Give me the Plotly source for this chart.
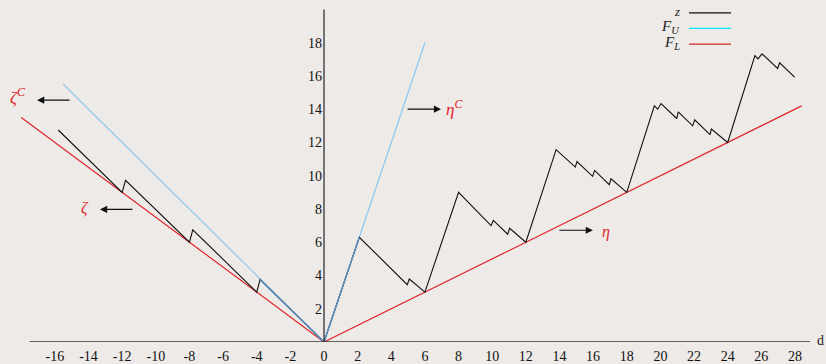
import plotly.graph_objects as go
import numpy as np

# ---- data ----
z_x = [-15.8, -12.0, -11.8, -8.0, -7.8, -4.0, -3.8, 0.0,
       2.1, 4.95, 5.07, 6.0, 8.0, 9.93, 10.07, 10.92, 11.04, 12.0,
       13.8, 14.94, 15.04, 15.97, 16.09, 16.96, 17.06, 18.0,
       19.64, 19.84, 20.04, 20.97, 21.06, 21.92, 22.04, 22.95, 23.03, 24.0,
       25.62, 25.8, 26.04, 26.97, 27.09, 27.98]
z_y = [12.75, 9.0, 9.72, 6.0, 6.75, 3.0, 3.75, 0.0,
       6.3, 3.45, 3.79, 3.0, 9.0, 7.0, 7.31, 6.48, 6.84, 6.0,
       11.57, 10.52, 10.85, 9.96, 10.32, 9.46, 9.82, 9.0,
       14.2, 14.0, 14.34, 13.44, 13.84, 13.0, 13.36, 12.47, 12.81, 12.0,
       17.22, 17.03, 17.33, 16.45, 16.79, 15.93]
fu_x = [-15.5, 0.0, 6.0]
fu_y = [15.5, 0.0, 18.0]
fl_x = [-18.0, 0.0, 28.4]
fl_y = [13.5, 0.0, 14.2]
x_ticks = list(range(-16, 29, 2))
y_ticks = list(range(2, 19, 2))

BG = "#EDEAE7"
RED = "#E0242B"
SKY = "#8CC8F0"
SERIF = "Liberation Serif"
INK = "#111111"

# z points lying on F_U (overlap drawn in a blended blue)
fu_at = np.interp(z_x, fu_x, fu_y)
on = [abs(a - b) < 0.2 for a, b in zip(z_y, fu_at)]
ov_x = [x for x, o in zip(z_x, on) if o]
ov_y = [y for y, o in zip(z_y, on) if o]

fig = go.Figure()
fig.add_trace(go.Scatter(x=fl_x, y=fl_y, mode="lines", line=dict(color=RED, width=1.2), hoverinfo="skip"))
fig.add_trace(go.Scatter(x=fu_x, y=fu_y, mode="lines", line=dict(color=SKY, width=1.2), hoverinfo="skip"))
fig.add_trace(go.Scatter(x=z_x, y=z_y, mode="lines", line=dict(color=INK, width=1.1), hoverinfo="skip"))
fig.add_trace(go.Scatter(x=ov_x, y=ov_y, mode="lines", line=dict(color="#5A92C6", width=1.3), hoverinfo="skip"))

W, H = 826, 364
x0px, pxu = 324.0, 16.82
xr = [(0 - x0px) / pxu, (W - x0px) / pxu]
yr = [0, 344.5 / 16.75]

shapes = [
    dict(type="line", xref="x", yref="y", x0=-17.5, x1=28.9, y0=0, y1=0, line=dict(color="#333333", width=1.3)),
    dict(type="line", xref="x", yref="y", x0=0, x1=0, y0=0, y1=20, line=dict(color="#333333", width=1.3)),
]
# legend samples
leg = [("<i>z</i>", INK, 13.7, 13), ("<i>F</i><sub><i>U</i></sub>", "#00E8FF", 30.3, 15),
       ("<i>F</i><sub><i>L</i></sub>", "#D42A2A", 47.0, 15)]
annotations = []
for txt, col, ypx, fs in leg:
    shapes.append(dict(type="line", xref="paper", yref="paper", x0=689 / W, x1=731 / W,
                       y0=1 - ypx / H, y1=1 - ypx / H, line=dict(color=col, width=1.3)))
    annotations.append(dict(xref="paper", yref="paper", x=682 / W, y=1 - (ypx - 1.5) / H, text=txt,
                            showarrow=False, xanchor="right", yanchor="middle",
                            font=dict(family=SERIF, size=fs, color="#222222")))

def arrow(tail, head, y):
    return dict(x=head, y=y, ax=tail, ay=y, xref="x", yref="y", axref="x", ayref="y",
                showarrow=True, arrowhead=2, arrowsize=1.2, arrowwidth=1.2, arrowcolor=INK, text="")

annotations += [
    arrow(-15.04, -17.06, 14.54),
    arrow(-11.3, -13.32, 7.97),
    arrow(4.88, 6.96, 14.0),
    arrow(13.91, 15.99, 6.72),
    dict(x=-18.2, y=14.8, text="<i>ζ</i><sup><i>C</i></sup>", showarrow=False,
         font=dict(family=SERIF, size=17, color=RED)),
    dict(x=-14.2, y=8.05, text="<i>ζ</i>", showarrow=False, font=dict(family=SERIF, size=16, color=RED)),
    dict(x=7.75, y=14.1, text="<i>η</i><sup><i>C</i></sup>", showarrow=False,
         font=dict(family=SERIF, size=17, color=RED)),
    dict(x=16.75, y=6.62, text="<i>η</i>", showarrow=False, font=dict(family=SERIF, size=16, color=RED)),
    dict(x=29.5, y=0.1, text="d", showarrow=False, yanchor="middle",
         font=dict(family=SERIF, size=14, color="#222222")),
]

fig.update_layout(
    width=W, height=H, margin=dict(l=0, r=0, t=0, b=H - 345),
    paper_bgcolor=BG, plot_bgcolor=BG, showlegend=False,
    xaxis=dict(range=xr, showgrid=False, zeroline=False, showline=False, ticks="",
               tickvals=x_ticks, ticktext=[str(v) for v in x_ticks], ticklabelstandoff=4,
               tickfont=dict(family=SERIF, size=14, color=INK)),
    yaxis=dict(range=yr, showgrid=False, zeroline=False, showline=False, ticks="",
               anchor="free", position=x0px / W, side="left", ticklabelstandoff=2,
               tickvals=y_ticks, ticktext=[str(v) for v in y_ticks],
               tickfont=dict(family=SERIF, size=14, color=INK)),
    shapes=shapes, annotations=annotations,
)
fig.write_html("out.html")
